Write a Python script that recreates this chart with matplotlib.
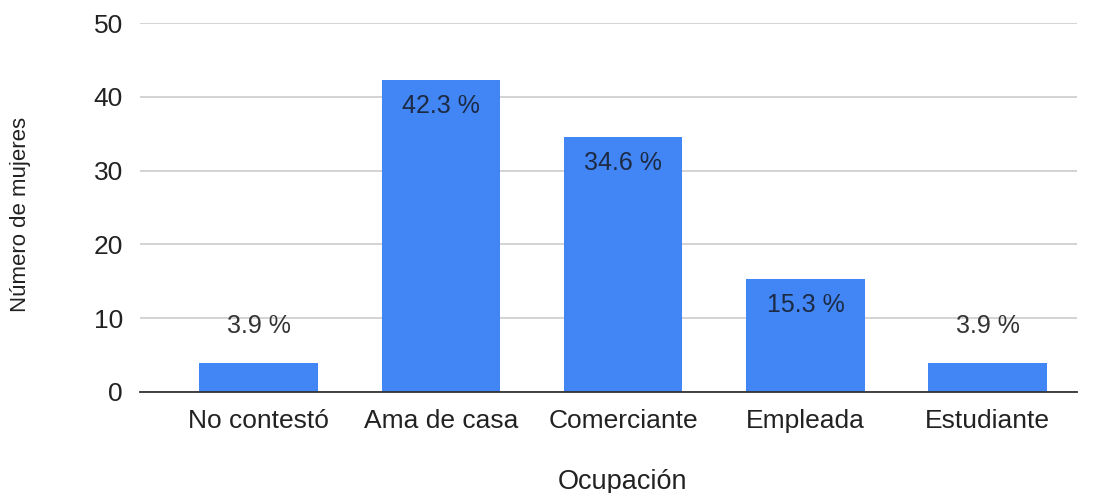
import matplotlib.pyplot as plt
import numpy as np

plt.rcParams['font.family'] = ['Liberation Sans', 'DejaVu Sans']

categories = ['No contestó', 'Ama de casa', 'Comerciante', 'Empleada', 'Estudiante']
values = [3.9, 42.3, 34.6, 15.3, 3.9]
labels = ['3.9 %', '42.3 %', '34.6 %', '15.3 %', '3.9 %']
yticks = [0, 10, 20, 30, 40, 50]

fig = plt.figure(figsize=(10.99, 4.93), dpi=100)
ax = fig.add_axes([0.127, 0.205, 0.853, 0.748])

x = np.arange(len(categories))
bars = ax.bar(x, values, width=0.65, color='#4285F4', zorder=3)

ax.set_xlim(-0.653, 4.49)
ax.set_ylim(0, 50)
ax.set_yticks(yticks)
ax.set_xticks(x)
ax.set_xticklabels(categories)
ax.tick_params(axis='both', length=0, labelsize=19, colors='#222222')
ax.tick_params(axis='x', pad=12)
ax.tick_params(axis='y', pad=12)

ax.grid(axis='y', color='#cccccc', linewidth=1.2, zorder=0)
for s in ['top', 'right', 'left']:
    ax.spines[s].set_visible(False)
ax.spines['bottom'].set_color('#333333')
ax.spines['bottom'].set_linewidth(1.3)
ax.spines['bottom'].set_zorder(4)

# labels inside tall bars, above short ones
for xi, v, lab in zip(x, values, labels):
    if v > 10:
        ax.annotate(lab, (xi, v), xytext=(0, -26), textcoords='offset pixels',
                    ha='center', va='center', fontsize=18, color='#1c2a44', zorder=5)
    else:
        ax.annotate(lab, (xi, v), xytext=(0, 37), textcoords='offset pixels',
                    ha='center', va='center', fontsize=18, color='#333333', zorder=5)

ax.set_ylabel('Número de mujeres', fontsize=16, color='#222222', va='center', ha='center')
ax.set_xlabel('Ocupación', fontsize=19.5, color='#222222', va='center', ha='center')
ax.yaxis.set_label_coords(-0.127, 0.48)
ax.xaxis.set_label_coords(0.515, -0.244)

plt.savefig('out.png', dpi=100)
